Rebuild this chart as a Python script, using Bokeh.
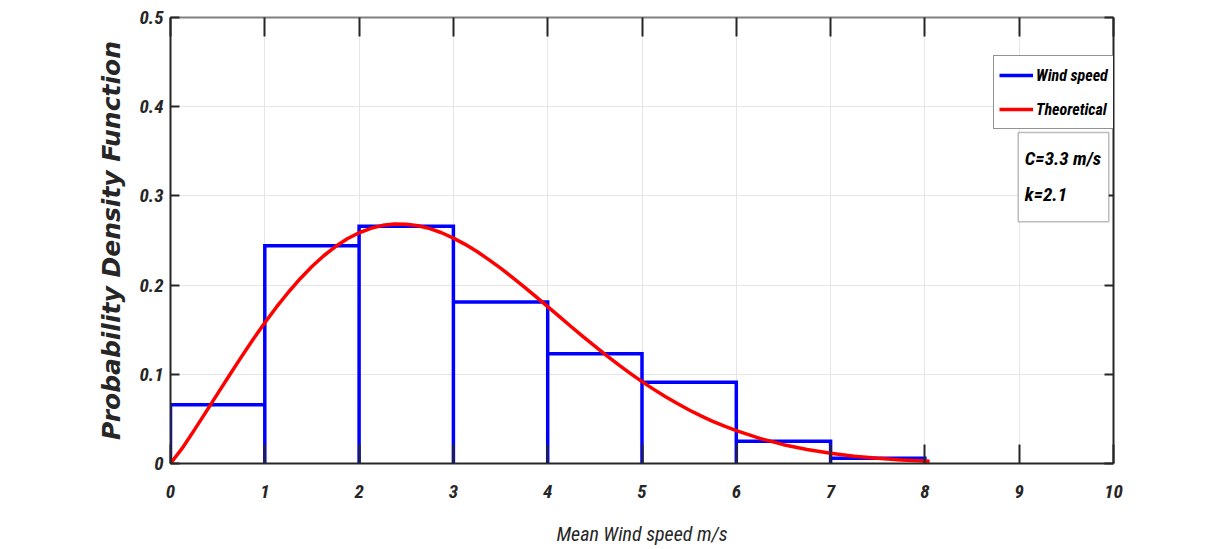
from bokeh.plotting import figure
from bokeh.models import (Range1d, LinearAxis, FixedTicker, Legend, LegendItem,
                          BoxAnnotation, Label)
from bokeh.embed import file_html
from bokeh.resources import INLINE

# ---------------- data ----------------
bin_left = [0, 1, 2, 3, 4, 5, 6, 7]
bin_right = [1, 2, 3, 4, 5, 6, 7, 8]
pdf_hist = [0.066, 0.244, 0.266, 0.181, 0.123, 0.091, 0.025, 0.006]

theo_x = [0.0, 0.125, 0.25, 0.375, 0.5, 0.625, 0.75, 0.875, 1.0, 1.125, 1.25,
          1.375, 1.5, 1.625, 1.75, 1.875, 2.0, 2.125, 2.25, 2.375, 2.5, 2.625,
          2.75, 2.875, 3.0, 3.125, 3.25, 3.375, 3.5, 3.625, 3.75, 3.875, 4.0,
          4.125, 4.25, 4.375, 4.5, 4.625, 4.75, 4.875, 5.0, 5.125, 5.25, 5.375,
          5.5, 5.625, 5.75, 5.875, 6.0, 6.25, 6.5, 6.75, 7.0, 7.25, 7.5, 7.75,
          8.0, 8.05]
theo_y = [0.0, 0.0172, 0.0371, 0.0576, 0.0784, 0.0990, 0.1193, 0.1390, 0.1577,
          0.1755, 0.1920, 0.2072, 0.2209, 0.2329, 0.2432, 0.2519, 0.2587, 0.2637,
          0.2670, 0.2685, 0.2683, 0.2665, 0.2633, 0.2587, 0.2527, 0.2457, 0.2376,
          0.2286, 0.2190, 0.2087, 0.1980, 0.1870, 0.1758, 0.1646, 0.1533, 0.1423,
          0.1315, 0.1210, 0.1108, 0.1011, 0.0918, 0.0831, 0.0748, 0.0672, 0.0600,
          0.0534, 0.0473, 0.0418, 0.0368, 0.0281, 0.0211, 0.0156, 0.0114, 0.0082,
          0.0058, 0.0040, 0.0027, 0.0025]

x_ticks = [0, 1, 2, 3, 4, 5, 6, 7, 8, 9, 10]
x_tick_labels = ["0", "1", "2", "3", "4", "5", "6", "7", "8", "9", "10"]
y_ticks = [0, 0.1, 0.2, 0.3, 0.4, 0.5]
y_tick_labels = ["0", "0.1", "0.2", "0.3", "0.4", "0.5"]

series_names = ["Wind speed", "Theoretical"]
param_text = "C=3.3 m/s\nk=2.1"

# ---------------- styles ----------------
NARROW = "'Roboto Condensed', 'Liberation Sans', sans-serif"
AX = "#262626"

p = figure(width=1226, height=549, x_range=Range1d(0, 10), y_range=Range1d(0, 0.5),
           output_backend="svg", toolbar_location=None,
           min_border_left=170, min_border_right=113, min_border_top=17,
           min_border_bottom=86)
p.outline_line_color = None
p.background_fill_color = "white"
p.border_fill_color = "white"

# grid
p.xgrid.ticker = FixedTicker(ticks=x_ticks)
p.ygrid.ticker = FixedTicker(ticks=y_ticks)
p.grid.grid_line_color = "#e6e6e6"
p.grid.grid_line_width = 1

def style_axis(ax, tick_in, show_labels, color=AX):
    ax.axis_line_color = color
    ax.axis_line_width = 2
    ax.major_tick_line_color = AX
    ax.major_tick_line_width = 2
    ax.major_tick_in = tick_in
    ax.major_tick_out = 0
    ax.minor_tick_line_color = None
    ax.major_label_text_font = NARROW
    ax.major_label_text_font_style = "bold italic"
    ax.major_label_text_font_size = "19px"
    ax.major_label_text_color = AX
    if not show_labels:
        ax.major_label_text_font_size = "0px"
        ax.major_label_text_alpha = 0

xov = {t: l for t, l in zip(x_ticks, x_tick_labels)}
yov = {t: l for t, l in zip(y_ticks, y_tick_labels)}

xb = p.xaxis[0]
xb.ticker = FixedTicker(ticks=x_ticks)
xb.major_label_overrides = xov
style_axis(xb, 19, True)
xb.major_label_standoff = 21
xb.axis_label = "Mean Wind speed m/s"
xb.axis_label_text_font = NARROW
xb.axis_label_text_font_style = "italic"
xb.axis_label_text_font_size = "20px"
xb.axis_label_text_color = AX
xb.axis_label_standoff = 21

yl = p.yaxis[0]
yl.ticker = FixedTicker(ticks=y_ticks)
yl.major_label_overrides = yov
style_axis(yl, 9, True)
yl.major_label_standoff = 7
yl.axis_label = "Probability Density Function"
yl.axis_label_text_font = "DejaVu Sans"
yl.axis_label_text_font_style = "bold italic"
yl.axis_label_text_font_size = "25px"
yl.axis_label_text_color = AX
yl.axis_label_standoff = 10

xt = LinearAxis(ticker=FixedTicker(ticks=x_ticks))
style_axis(xt, 19, False, color="#808080")
p.add_layout(xt, "above")
yr = LinearAxis(ticker=FixedTicker(ticks=y_ticks))
style_axis(yr, 9, False)
p.add_layout(yr, "right")

# histogram outline (rectangle per bin) as one polyline
hist_x, hist_y = [], []
for l, r, h in zip(bin_left, bin_right, pdf_hist):
    hist_x += [l, l, r, r]
    hist_y += [0, h, h, 0]
blue = p.line(hist_x, hist_y, line_color="#0000ff", line_width=3.5, line_join="miter")

# theoretical curve
red = p.line(theo_x, theo_y, line_color="#ff0000", line_width=3.5, line_join="round")

legend = Legend(items=[LegendItem(label=series_names[0], renderers=[blue]),
                       LegendItem(label=series_names[1], renderers=[red])],
                location=(823, 334), orientation="vertical")
legend.label_text_font = NARROW
legend.label_text_font_style = "bold italic"
legend.label_text_font_size = "16px"
legend.label_text_color = "black"
legend.glyph_width = 34
legend.glyph_height = 28
legend.label_height = 28
legend.label_standoff = 3
legend.spacing = 6
legend.padding = 5
legend.margin = 0
legend.border_line_color = AX
legend.border_line_width = 1.5
legend.background_fill_color = "white"
legend.background_fill_alpha = 1
p.add_layout(legend, "center")

# parameter text box
box = BoxAnnotation(left=8.99, right=9.95, top=0.371, bottom=0.271,
                    fill_color="white", fill_alpha=1,
                    line_color=AX, line_width=1.5, level="annotation")
p.add_layout(box)
for txt, yy in zip(param_text.split("\n"), [0.342, 0.302]):
    p.add_layout(Label(x=9.06, y=yy, text=txt, text_baseline="middle",
                       text_font=NARROW, text_font_style="bold italic",
                       text_font_size="19px", text_color="black"))

# outer frame of the figure
frame = BoxAnnotation(left=9, right=1400, top=5, bottom=800,
                      left_units="canvas", right_units="canvas",
                      top_units="canvas", bottom_units="canvas",
                      fill_alpha=0, line_color="#1a1a1a", line_width=2.5)
p.add_layout(frame)

open("out.html", "w").write(file_html(p, INLINE))
